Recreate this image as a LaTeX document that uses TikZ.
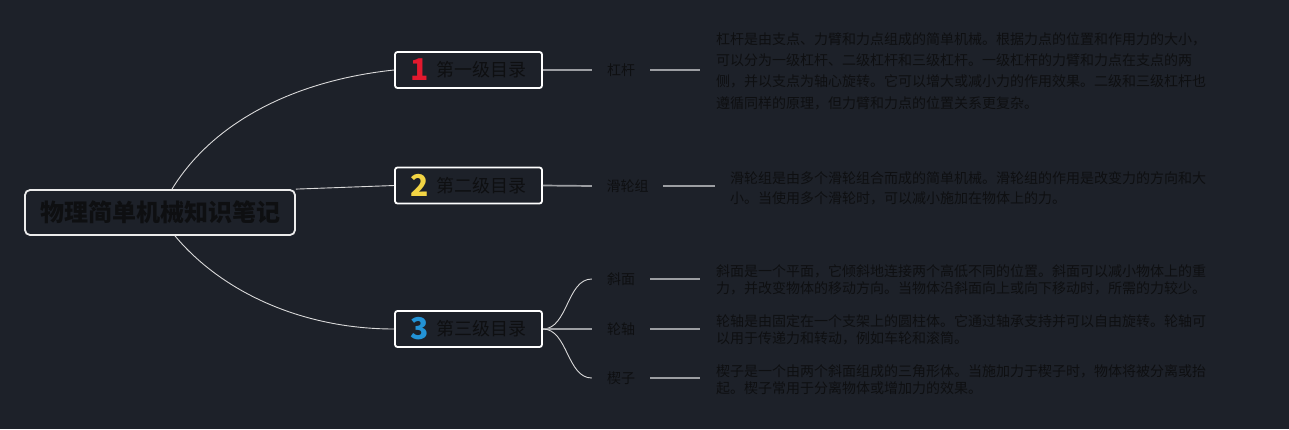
\documentclass[tikz,border=0pt]{standalone}
\usepackage{fontspec}
\setmainfont{Noto Sans CJK SC}
\definecolor{bg}{HTML}{1D2129}
\definecolor{txt}{HTML}{0E0F11}
\definecolor{gry}{HTML}{9C9EA2}
\definecolor{cone}{HTML}{E2192E}
\definecolor{ctwo}{HTML}{F2D444}
\definecolor{cthree}{HTML}{2393D6}
\newcommand{\bignum}[2]{\raisebox{-4pt}{\textcolor{#1}{\fontsize{30pt}{30pt}\selectfont\bfseries #2}}}
\begin{document}
\begin{tikzpicture}[x=1pt,y=-1pt,
  rootbox/.style={draw=white!92!black, line width=1.8pt, rounded corners=5pt, minimum width=270pt, minimum height=45pt, inner sep=0pt, font=\fontsize{24pt}{28pt}\selectfont\bfseries, text=txt},
  lvbox/.style={draw=white, line width=1.8pt, rounded corners=2.5pt, minimum width=147pt, minimum height=36pt, inner sep=0pt, font=\fontsize{18pt}{22pt}\selectfont, text=txt},
  leaf/.style={inner sep=0pt, minimum height=20pt, font=\fontsize{14pt}{17pt}\selectfont, text=txt},
  desc/.style={anchor=west, inner xsep=16pt, inner ysep=0pt, align=left, text=txt},
  mainline/.style={draw=white!85!black, line width=0.9pt},
  greyline/.style={draw=gry, line width=1.7pt},
]
\fill[bg] (0,0) rectangle (1289,429);
\useasboundingbox (0,0) rectangle (1289,429);

\node[rootbox] (root) at (160,212.5) {物理简单机械知识笔记};

\node[lvbox] (b1) at (468.5,70) {\bignum{cone}{1}\hspace{7pt}第一级目录\hspace{4pt}};
\node[lvbox] (b2) at (468.5,185.5) {\bignum{ctwo}{2}\hspace{7pt}第二级目录\hspace{4pt}};
\node[lvbox] (b3) at (468.5,329) {\bignum{cthree}{3}\hspace{7pt}第三级目录\hspace{4pt}};

\node[leaf, minimum width=58pt] (l1) at (621,70) {杠杆};
\node[leaf, minimum width=71pt] (l2) at (627.5,186) {滑轮组};
\node[leaf, minimum width=58pt] (l3) at (621,279) {斜面};
\node[leaf, minimum width=58pt] (l4) at (621,329) {轮轴};
\node[leaf, minimum width=58pt] (l5) at (621,378) {楔子};

\node[desc, font=\fontsize{14pt}{21.3pt}\selectfont] (d1) at (700,71) {杠杆是由支点、力臂和力点组成的简单机械。根据力点的位置和作用力的大小，\\可以分为一级杠杆、二级杠杆和三级杠杆。一级杠杆的力臂和力点在支点的两\\侧，并以支点为轴心旋转。它可以增大或减小力的作用效果。二级和三级杠杆也\\遵循同样的原理，但力臂和力点的位置关系更复杂。};
\node[desc, inner xsep=15pt, font=\fontsize{14pt}{20pt}\selectfont] (d2) at (715,188) {滑轮组是由多个滑轮组合而成的简单机械。滑轮组的作用是改变力的方向和大\\小。当使用多个滑轮时，可以减小施加在物体上的力。};
\node[desc, font=\fontsize{14pt}{17pt}\selectfont] (d3) at (700,280) {斜面是一个平面，它倾斜地连接两个高低不同的位置。斜面可以减小物体上的重\\力，并改变物体的移动方向。当物体沿斜面向上或向下移动时，所需的力较少。};
\node[desc, font=\fontsize{14pt}{17pt}\selectfont] (d4) at (700,330) {轮轴是由固定在一个支架上的圆柱体。它通过轴承支持并可以自由旋转。轮轴可\\以用于传递力和转动，例如车轮和滚筒。};
\node[desc, font=\fontsize{14pt}{17pt}\selectfont] (d5) at (700,380) {楔子是一个由两个斜面组成的三角形体。当施加力于楔子时，物体将被分离或抬\\起。楔子常用于分离物体或增加力的效果。};

% main connectors
\draw[mainline] ([xshift=12pt]root.north) .. controls +(43,-70) and +(-95,10) .. (b1.west);
\draw[mainline] (root.north east) -- (b2.west);
\draw[mainline] ([xshift=15pt]root.south) .. controls +(45,54) and +(-95,0) .. (b3.west);

% level 2 connectors
\draw[greyline] (b1.east) -- (l1.west);
\draw[greyline] (b2.east) -- (l2.west);
\draw[mainline] (b3.east) .. controls +(25,0) and +(-25,0) .. (l3.west);
\draw[greyline] (b3.east) -- (l4.west);
\draw[mainline] (b3.east) .. controls +(25,0) and +(-25,0) .. (l5.west);

% leaf to description
\draw[greyline] (l1.east) -- (d1.west |- l1.east);
\draw[greyline] (l2.east) -- (d2.west |- l2.east);
\draw[greyline] (l3.east) -- (d3.west |- l3.east);
\draw[greyline] (l4.east) -- (d4.west |- l4.east);
\draw[greyline] (l5.east) -- (d5.west |- l5.east);
\end{tikzpicture}
\end{document}
